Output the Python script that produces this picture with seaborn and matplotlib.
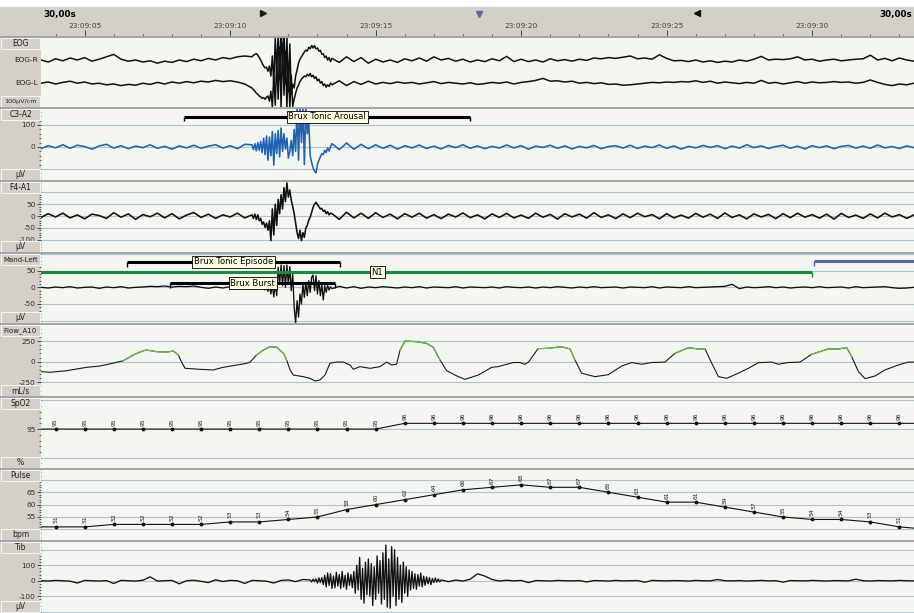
import numpy as np
import seaborn as sns
import matplotlib.pyplot as plt
from matplotlib.patches import Rectangle
from matplotlib.lines import Line2D
from matplotlib.ticker import MultipleLocator, FuncFormatter

plt.rcParams['font.family'] = ['DejaVu Sans']
plt.rcParams['axes.unicode_minus'] = False

# 30 s epoch, seconds after 23:09:00
T0, T1 = 3.5, 33.5
STEP, FINE = 0.25, 0.05   # baseline / burst sampling

# ---- EOG (uV) : baseline before burst, burst from 10.75 s, baseline after ----
eogr_pre = [0, -5, 3, -2, 5, 0, 6, -3, 2, 8, 14, 2, -3, 0, -5, -2, -8, -3, -6, 0,
            -4, 2, -2, 4, 0, 6, 3, 8, 10]
eogr_burst = [8, 12, 14, 16, 12, 6, 0, -8, -15, -20, -18, -28, -15, -40, 10,
              -60, 55, -30, 70, -50, 80, -20, 75, -60, 60, -80,
              40, -85, -60, -70, -40, -25, -8, 2, 8, 14,
              20, 25, 22, 32, 28, 36, 30, 36, 28, 30,
              22, 24, 14, 16, 6, 10, 0, 6, -4]
eogr_post = [4, -6, 8, -4, 6, -8, 2, -5, 0, -6, 3, -2, 5, -3, 8, 0, 4, -3, 2, -5,
             0, -4, 3, -2, 9, -4, 2, -4, 0, -5, 3, -2, 1, -3, 2, -1, 5, 3, 6, 4,
             7, 10, 3, 5, 2, 13, 4, -2, -1, -4, 0, -5, -2, -6, -3, -5, 0, -3, 2, 9,
             0, 2, 1, 3, 8, 0, 2, -3, 0, 2, -2, 0, 2, 3, 12, 0, 4, -2, 5, 0, -3]
eogl_pre = [0, 3, -2, 2, 5, 0, 3, -2, 0, -4, -2, -6, -3, -5, 0, -3, 2, -2, 3, 0,
            4, 1, 5, 3, 7, 4, 6, 3, -2]
eogl_burst = [-12, -16, -20, -25, -28, -32, -34, -38, -36, -40, -35, -32, -45, -20, -60,
              20, -55, 60, -40, 90, -60, 100, -30, 80, -60, 50,
              -62, 20, -58, -40, -25, -12, -5, 4, 10, 14,
              18, 16, 22, 18, 24, 16, 20, 12, 16, 6,
              10, 0, 4, -6, -2, -10, -4, -8, 0]
eogl_post = [-4, 6, -6, 4, -3, 5, -2, 2, -1, 3, 0, 2, -2, 1, 4, -1, 2, 0, -2, 1,
             -3, -1, 2, 0, 3, -2, 2, 4, 7, 12, 5, 6, 3, 5, 0, 2, -1, 1, -3, -2,
             -5, -4, -2, 0, 2, 1, 3, 2, 4, 3, 6, 2, 5, 0, 3, 1, -1, 2, 0, 7,
             0, 2, -2, 1, 4, 0, 3, 1, 2, 4, 2, 3, 0, 2, 8, 2, -3, -6, -2, -4, 0]

# ---- C3-A2 (uV) ----
c3_pre = [-8, 6, -4, 10, -6, 8, 2, -10, 5, 12, -5, 6, -8, 4, -3, 10, -6, 3, -10, 5,
          -4, 8, -6, 4, 10, -5, 6, -8, 12]
c3_burst = [10, -12, 15, -18, 20, -15, 25, -25, 40, -35, 50, -60, 45, -40, 70,
            -82, 60, -30, 75, -45, 86, -20, 60, -10, 40, -50,
            -20, 30, -40, 80, -20, 180, -60, 190, 20, 185,
            -80, 180, 60, 120, -40, -70, -95, -110, -118, -80,
            -60, -45, -30, -35, -15, -25, -5, -18, 0]
c3_post = [15, -12, 18, -10, 12, -8, 10, -6, 8, -10, 6, -4, 9, -7, 4, -9, 7, -3, 10, -6,
           5, -8, 3, -5, 9, -4, 6, -10, 4, -2, 8, -6, 5, -9, 3, -4, 7, -8, 2, 6,
           -5, 8, -7, 4, -3, 9, -6, 5, -10, 3, -4, 7, -2, 6, -8, 4, -5, 10, -3, 5,
           -7, 2, 8, -6, 4, -9, 6, -3, 5, -8, 3, 7, -5, 4, -6, 9, -4, 2, -7, 5, -3]

# ---- F4-A1 (uV) ----
f4_pre = [-6, 10, -4, 12, -8, 5, -12, 8, 2, -10, 14, -5, 9, -14, 6, -3, 12, -8, 10, -12,
          4, 15, -6, 8, -10, 5, -4, 12, -8]
f4_burst = [5, -10, 8, -15, 5, -20, -10, -35, -25, -48, -30, -60, -20, -104, 30,
            -80, 50, -40, 70, 10, 90, 30, 120, 60, 140, 80,
            110, 67, 40, 10, -30, -70, -95, -60, -104, -70,
            -90, -50, -40, -18, -5, 15, 37, 50, 58, 48,
            40, 30, 32, 20, 24, 10, 18, 5, 12]
f4_post = [10, -14, 16, -8, 12, -10, 14, -6, 8, -12, 10, -5, 12, -9, 6, -11, 8, -4, 13, -7,
           5, -12, 9, -6, 11, -8, 4, -10, 12, -5, 7, -13, 10, -4, 8, -9, 14, -6, 5, -11,
           9, -7, 12, -3, 6, -12, 10, -8, 4, -9, 11, -5, 8, -10, 13, -6, 5, -12, 9, -4,
           7, -11, 10, -7, 12, -5, 6, -9, 8, -13, 11, -6, 4, -10, 9, -8, 12, -4, 6, -10, 5]

# ---- Mand-Left (uV) ----
mand_pre = [0, -2, 1, -1, 2, -2, 0, 1, -3, 1, -1, 2, -2, 0, 1, 3, 2, 4, 1, 3,
            2, 4, 0, -3, 1, -2, 2, -1, 3]
mand_burst = [0, -2, 2, -3, 1, -4, 3, -6, 4, -8, 5, -12, 6, -20, 8,
              -29, 10, -25, 60, 10, 67, 5, 65, 0, 67, 8,
              62, -10, 40, -60, -107, -40, -89, -20, -50, 10,
              -30, 15, -25, 20, -15, 30, 37, -10, 35, -20,
              20, -25, 10, -38, 5, -15, 6, -8, 2]
mand_post = [-4, 3, -2, 2, -3, 1, -1, 2, 0, -2, 1, -1, 2, -2, 1, 0, -1, 2, -2, 1,
             0, -1, 1, -2, 2, 0, -1, 1, -2, 1, -1, 2, 0, -2, 1, -1, 2, -1, 0, 1,
             -2, 1, 0, -1, 2, -2, 1, 0, -1, 2, -1, 0, 1, 2, 3, 9, -4, 1, -1, 0,
             2, -1, 1, -2, 0, 1, -1, 2, -1, 0, 1, -2, 2, -1, 0, 1, 2, -1, -3, -2, 0]

# ---- Tib (uV), burst from 12.75 s ----
tib_pre = [0, -2, 2, 0, -3, -15, 2, 0, -2, 1, -18, 2, 0, -2, 3, 25, -2, 0, 2, -20,
           0, 3, -4, -12, 6, -5, 2, 0, -18, 2, 0, -3, -15, 2, 5, -6, 8]
tib_burst = [5, -8, 10, -6, 12, -15, 18, -12, 20, -25,
             35, -40, 50, -30, 45, -50, 30, -45, 55, -35,
             40, -50, 60, -40, 35, -55, 50, -30, 40, -45,
             60, -80, 100, -60, 150, -120, 80, -145, 120, -90,
             140, -100, 110, -160, 90, -120, 160, -80, 130, -150,
             180, -120, 230, -170, 140, -177, 220, -100, 200, -160,
             150, -120, 100, -140, 120, -80, 90, -100, 70, -60,
             60, -50, 45, -55, 40, -35, 50, -40, 30, -30,
             25, -20, 20, -25, 15, -12, 18, -10, 12, -8]
tib_post = [5, -6, 4, -2, 10, 45, 30, 8, -2, 3, -1, 2, -12, 1, 0, -2, 2, 0, -1, 1,
            -8, 1, 0, -2, 2, -1, 0, 1, -10, 2, 0, -1, 1, 0, -2, 2, 0, -1, 8, 0,
            -1, 1, -2, 0, 2, -1, 0, -9, 1, 0, -1, 2, 0, -2, 1, 0, -1, 10, 0, -2,
            1, 0, -1, 2, 0, -1]

# ---- Flow_A10 (mL/s) ----
flow_t = [3.52, 3.81, 4.38, 5.07, 5.53, 5.97, 6.33, 6.67, 7.02, 7.13,
          7.48, 7.82, 8.05, 8.22, 8.34, 8.45, 8.96, 9.42, 9.76, 10.23,
          10.51, 10.68, 10.91, 11.14, 11.37, 11.60, 11.83, 11.94, 12.06, 12.17,
          12.51, 12.74, 12.92, 13.09, 13.26, 13.43, 13.66, 13.89, 14.12, 14.23,
          14.46, 14.81, 15.15, 15.38, 15.55, 15.72, 15.84, 16.01, 16.41, 16.75,
          16.98, 17.21, 17.44, 17.79, 18.07, 18.53, 18.99, 19.21, 19.73, 19.96,
          20.13, 20.25, 20.58, 20.92, 21.39, 21.68, 21.85, 22.08, 22.54, 22.99,
          23.46, 23.80, 24.14, 24.49, 24.94, 25.29, 25.74, 26.09, 26.32, 26.55,
          26.78, 27.06, 27.46, 27.81, 28.15, 28.61, 28.84, 29.18, 29.58, 29.98,
          30.55, 30.89, 31.19, 31.36, 31.59, 31.82, 32.16, 32.50, 32.96, 33.30, 33.50]
flow_v = [-121, -128, -109, -68, -52, -19, 12, 81, 133, 141,
          121, 117, 129, 81, -12, -80, -92, -100, -68, -40,
          -24, -7, 81, 141, 181, 174, 102, 21, -100, -161,
          -181, -201, -233, -221, -161, -19, -4, -5, -40, -92,
          -60, -80, -60, -5, -40, -31, 141, 250, 242, 222,
          174, 21, -109, -173, -213, -161, -68, -60, -10, -10,
          -31, -5, 157, 162, 181, 154, 21, -140, -181, -157,
          -52, -10, -31, -10, -5, 102, 169, 154, 154, -19,
          -181, -201, -140, -80, -12, -5, -31, -10, -5, 89,
          154, 154, 169, 60, -121, -205, -173, -100, -40, -5, -5]

# ---- SpO2 (%) and Pulse (bpm), one value per second ----
sec = [3, 4, 5, 6, 7, 8, 9, 10, 11, 12, 13, 14, 15, 16, 17, 18, 19, 20, 21, 22,
       23, 24, 25, 26, 27, 28, 29, 30, 31, 32, 33, 34]
spo2 = [95, 95, 95, 95, 95, 95, 95, 95, 95, 95, 95, 95, 95, 96, 96, 96, 96, 96, 96, 96,
        96, 96, 96, 96, 96, 96, 96, 96, 96, 96, 96, 96]
pulse = [51, 51, 51, 52, 52, 52, 52, 53, 53, 54, 55, 58, 60, 62, 64, 66, 67, 68, 67, 67,
         65, 63, 61, 61, 59, 57, 55, 54, 54, 53, 51, 50]

# ---- time axis labels ----
head_ticks = [5, 10, 15, 20, 25, 30]
head_labels = ['23:09:05', '23:09:10', '23:09:15', '23:09:20', '23:09:25', '23:09:30']

W, H = 914, 613
BG = '#f3f7ef'
GRAY = '#d4d0c8'
GRID = '#a9c5db'
INK = '#303030'

fig = plt.figure(figsize=(W / 100, H / 100), dpi=100, facecolor=GRAY)


def fx(x):
    return x / W


def fy(y):
    return 1 - y / H


def series(pre, burst, post, b0):
    t_pre = T0 + STEP * np.arange(len(pre))
    t_bur = b0 + FINE * np.arange(len(burst))
    t_post = b0 + FINE * len(burst) + STEP * np.arange(len(post))
    keep = t_pre < b0 - 1e-9
    t = np.concatenate([t_pre[keep], t_bur, t_post])
    v = np.concatenate([np.asarray(pre, float)[keep], burst, post])
    return t, v


def panel(top, bottom):
    ax = fig.add_axes([fx(41), fy(bottom), fx(W - 41), (bottom - top) / H])
    ax.set_facecolor(BG)
    for s in ax.spines.values():
        s.set_visible(False)
    ax.set_axisbelow(True)
    return ax


def yaxis(ax, lim, major, minor, shown):
    ax.set_xlim(T0, T1)
    ax.set_ylim(*lim)
    ax.set_xticks([])
    ax.set_xlabel('')
    ax.set_ylabel('')
    ax.yaxis.set_major_locator(MultipleLocator(major))
    ax.yaxis.set_minor_locator(MultipleLocator(minor))
    # labels hidden under the name / unit cells are left out
    ax.yaxis.set_major_formatter(FuncFormatter(
        lambda val, pos: f'{val:g}' if round(val) in shown else ''))
    ax.tick_params(axis='y', which='major', labelsize=5.3, length=3, width=0.6, pad=1, colors=INK)
    ax.tick_params(axis='y', which='minor', length=1.6, width=0.5, colors=INK)
    ax.grid(axis='y', which='major', color=GRID, lw=0.8)


def trace(ax, t, v, color='#111111', lw=0.7, **kw):
    sns.lineplot(x=t, y=v, ax=ax, color=color, lw=lw, estimator=None, sort=False, legend=False, **kw)


def bracket(ax, t0, t1, y, color='black', drop=0.06, lw=2.2):
    tr = ax.get_xaxis_transform()
    ax.plot([t0, t0], [y - drop, y], color=color, lw=1, transform=tr, zorder=4, solid_capstyle='butt')
    ax.plot([t1, t1], [y - drop, y], color=color, lw=1, transform=tr, zorder=4, solid_capstyle='butt')
    ax.plot([t0, t1], [y, y], color=color, lw=lw, transform=tr, zorder=4, solid_capstyle='butt')


def tag(ax, t, y, s):
    ax.text(t, y, s, transform=ax.get_xaxis_transform(), ha='center', va='center', fontsize=6,
            zorder=8, bbox=dict(boxstyle='square,pad=0.2', fc='#ffffe1', ec='black', lw=0.6))


def cell(top, h, text, size=5.5):
    fig.add_artist(Rectangle((fx(1), fy(top + h)), fx(39), h / H, transform=fig.transFigure,
                             fc=GRAY, ec='#f4f4f4', lw=0.8, zorder=3))
    fig.text(fx(20.5), fy(top + h / 2), text, ha='center', va='center', fontsize=size,
             color='#202020', zorder=4)


# top strip + header with the time scale
fig.add_artist(Rectangle((0, fy(7)), 1, 7 / H, transform=fig.transFigure, fc='white', ec='none'))
hax = fig.add_axes([fx(41), fy(36.5), fx(W - 41), 29.5 / H])
hax.set_facecolor(GRAY)
for s in hax.spines.values():
    s.set_visible(False)
hax.set_xlim(T0, T1)
hax.set_ylim(0, 1)
hax.set_yticks([])
hax.set_xticks(head_ticks)
hax.set_xticklabels(head_labels)
hax.xaxis.set_minor_locator(MultipleLocator(1))
hax.tick_params(axis='x', which='major', direction='in', length=5, width=0.7, pad=-9.5,
                labelsize=5.3, colors='#404040')
hax.tick_params(axis='x', which='minor', direction='in', length=2.5, width=0.6, colors='#404040')
hax.plot(11.13, 0.78, marker='>', ms=4.5, color='#1c1c10', ls='none')
hax.plot(18.55, 0.76, marker='v', ms=4.5, color='#5a66a8', ls='none')
hax.plot(26.04, 0.78, marker='<', ms=4.5, color='#111111', ls='none')
fig.text(fx(43), fy(14), '30,00s', fontsize=6.3, weight='bold', va='center', ha='left')
fig.text(fx(912), fy(14), '30,00s', fontsize=6.3, weight='bold', va='center', ha='right')

# ---- EOG ----
ax = panel(37, 107)
t, v = series(eogr_pre, eogr_burst, eogr_post, 10.75)
trace(ax, t, v + 30, lw=1.1)
t, v = series(eogl_pre, eogl_burst, eogl_post, 10.75)
trace(ax, t, v - 28, lw=1.1)
ax.set_xlim(T0, T1)
ax.set_ylim(-87.5, 87.5)
ax.set_xticks([])
ax.set_yticks([])
ax.set_xlabel('')
ax.set_ylabel('')
cell(38, 11, 'EOG')
cell(96, 11, '100µV/cm', size=4.6)
fig.text(fx(38), fy(60), 'EOG-R', ha='right', va='center', fontsize=5.3, color='#202020')
fig.text(fx(38), fy(83), 'EOG-L', ha='right', va='center', fontsize=5.3, color='#202020')

# ---- C3-A2 ----
ax = panel(108, 180)
t, v = series(c3_pre, c3_burst, c3_post, 10.75)
trace(ax, t, v, color='#1f62b4', lw=1.15)
yaxis(ax, (-150, 177), 100, 20, {100, 0})
bracket(ax, 8.41, 18.24, 0.879, drop=0.055)
tag(ax, 13.33, 0.879, 'Brux Tonic Arousal')
cell(109, 11, 'C3-A2')
cell(169, 11, 'µV')

# ---- F4-A1 ----
ax = panel(181, 252)
t, v = series(f4_pre, f4_burst, f4_post, 10.75)
trace(ax, t, v, lw=1.15)
yaxis(ax, (-152, 148), 50, 10, {50, 0, -50, -100})
cell(182, 11, 'F4-A1')
cell(241, 11, 'µV')

# ---- Mand-Left with scoring bars ----
ax = panel(253, 323)
bracket(ax, 6.45, 13.77, 0.876, drop=0.07)
bracket(ax, 3.0, 30.0, 0.724, color='#1a8a3c', drop=0.07, lw=2.2)
bracket(ax, 30.06, 34.0, 0.886, color='#5563ad', drop=0.07, lw=2.2)
bracket(ax, 7.93, 13.6, 0.567, drop=0.06)
t, v = series(mand_pre, mand_burst, mand_post, 10.75)
trace(ax, t, v, lw=0.95)
yaxis(ax, (-107, 103), 50, 10, {50, 0, -50})
tag(ax, 10.11, 0.876, 'Brux Tonic Episode')
tag(ax, 10.77, 0.567, 'Brux Burst')
tag(ax, 15.05, 0.724, 'N1')
cell(254, 11, 'Mand-Left', size=5.0)
cell(312, 11, 'µV')

# ---- Flow, green while flow is positive ----
ax = panel(324, 396)
ft = np.array(flow_t)
fv = np.array(flow_v, float)
trace(ax, ft, fv, color='#1a1a1a', lw=0.8)
pos = np.r_[0, (fv > 0).astype(int), 0]
edges = np.flatnonzero(np.diff(pos))
for a, b in zip(edges[::2], edges[1::2]):
    if b - a > 1:
        trace(ax, ft[a:b], fv[a:b], color='#6cc24a', lw=0.9)
yaxis(ax, (-415, 456), 250, 50, {250, 0, -250})
cell(325, 11, 'Flow_A10', size=5.0)
cell(385, 11, 'mL/s')

# ---- SpO2 ----
ax = panel(397, 468)
trace(ax, np.array(sec), np.array(spo2, float), lw=0.8, marker='o', markersize=2.8, markeredgewidth=0)
yaxis(ax, (88.2, 100.6), 5, 1, {95})
for s_, v_ in zip(sec, spo2):
    if T0 < s_ < T1:
        ax.annotate(str(v_), (s_, v_), xytext=(0, 2.5), textcoords='offset points', rotation=90,
                    ha='center', va='bottom', fontsize=4.3, color='#202020')
cell(398, 11, 'SpO2')
cell(457, 11, '%')

# ---- Pulse ----
ax = panel(469, 540)
trace(ax, np.array(sec), np.array(pulse, float), lw=0.8, marker='o', markersize=2.8, markeredgewidth=0)
yaxis(ax, (45.7, 74.4), 5, 1, {65, 60, 55})
for s_, v_ in zip(sec, pulse):
    if T0 < s_ < T1:
        ax.annotate(str(v_), (s_, v_), xytext=(0, 2.5), textcoords='offset points', rotation=90,
                    ha='center', va='bottom', fontsize=4.3, color='#202020')
cell(470, 11, 'Pulse')
cell(529, 11, 'bpm')

# ---- Tib ----
ax = panel(541, 613)
t, v = series(tib_pre, tib_burst, tib_post, 12.75)
trace(ax, t, v, lw=0.95)
yaxis(ax, (-208, 256), 100, 20, {100, 0, -100})
cell(542, 11, 'Tib')
cell(601, 11, 'µV')

# panel separators
for y in [36.5, 107.5, 180.5, 252.5, 323.5, 396.5, 468.5, 540.5]:
    fig.add_artist(Line2D([0, 1], [fy(y), fy(y)], transform=fig.transFigure, color='#a3a3a3', lw=1.4, zorder=5))

fig.savefig('out.png', dpi=100, facecolor=GRAY)
